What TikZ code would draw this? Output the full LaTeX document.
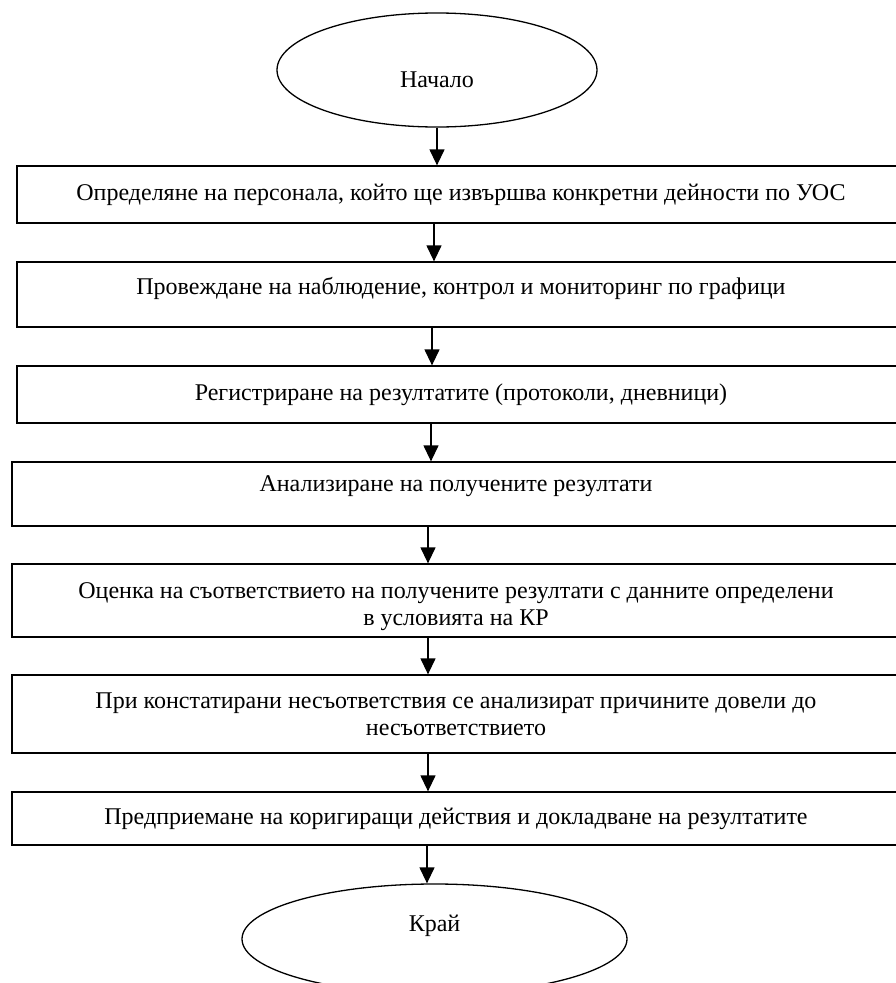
\documentclass[tikz,border=0pt]{standalone}
\usepackage{fontspec}
\setmainfont{Liberation Serif}
\usepackage{tikz}
\usetikzlibrary{arrows.meta,shapes.geometric}
\tikzset{
Etape/.style={
 draw=black, 
 line width=1.3pt, 
 rectangle, 
 minimum width=888pt, 
 minimum height=#1, 
 inner sep=0pt, 
 align=center, 
 font=\fontsize{24}{27.5}\selectfont
 },
Etape/.default={57pt},
Ovale/.style={
 draw=black, 
 line width=1.3pt, 
 ellipse, 
 inner sep=0pt, 
 font=\fontsize{24}{27.5}\selectfont
 },
Fleche/.style={
 draw=black, 
 line width=1.3pt, 
 -{Triangle[length=16pt,width=15pt]}
 }
}
\begin{document}
\begin{tikzpicture}[x=1pt,y=-1pt]
\useasboundingbox (0,0) rectangle (896,983);
\node[Ovale,minimum width=320pt,minimum height=114pt,text height=36pt] (debut) at (437,70) {Начало};
\node[Etape] (e1) at (461,194.5) {Определяне на персонала, който ще извършва конкретни дейности по УОС};
\node[Etape=65pt,text depth=17pt] (e2) at (461,294.5) {Провеждане на наблюдение, контрол и мониторинг по графици};
\node[Etape] (e3) at (461,394.5) {Регистриране на резултатите (протоколи, дневници)};
\node[Etape=64pt,text depth=21pt] (e4) at (456,494) {Анализиране на получените резултати};
\node[Etape=73pt,text height=56pt] (e5) at (456,600.5) {Оценка на съответствието на получените резултати с данните определени\\в условията на КР};
\node[Etape=78pt] (e6) at (456,714) {При констатирани несъответствия се анализират причините довели до\\несъответствието};
\node[Etape=53pt] (e7) at (456,818.5) {Предприемане на коригиращи действия и докладване на резултатите};
\node[Ovale,minimum width=385pt,minimum height=110pt,text depth=31pt] (fin) at (434.5,939) {Край};
\foreach \a/\b/\x in {debut/e1/437,e1/e2/434,e2/e3/432,e3/e4/431,e4/e5/428,e5/e6/428,e6/e7/428,e7/fin/427}
 \draw[Fleche] (\a.south -| \x,0) -- (\b.north -| \x,0);
\end{tikzpicture}
\end{document}
